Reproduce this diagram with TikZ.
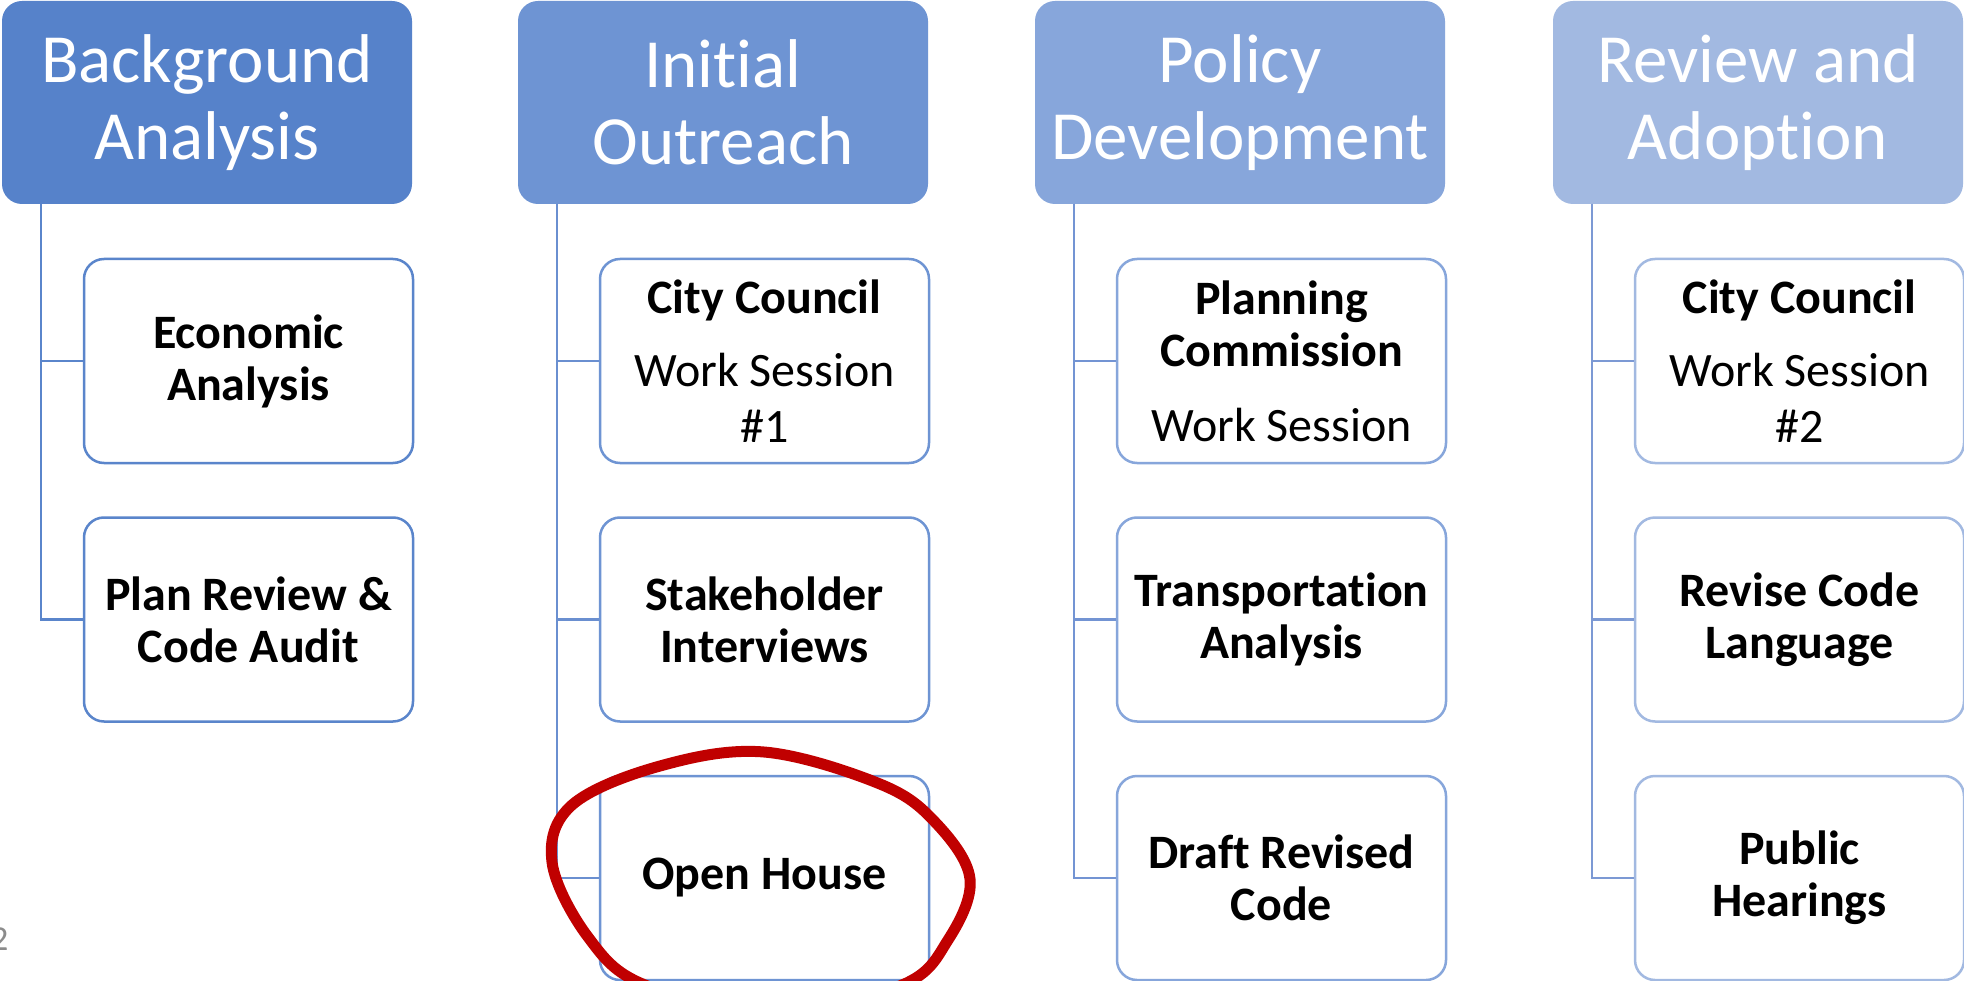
\documentclass[tikz,border=0pt]{standalone}
\usepackage{fontspec}
\setmainfont{Carlito}[Ligatures=NoCommon]
\definecolor{hA}{HTML}{5682CA}
\definecolor{hB}{HTML}{6E94D3}
\definecolor{hC}{HTML}{87A6DB}
\definecolor{hD}{HTML}{A2B9E1}
\definecolor{lA}{HTML}{5A85CB}
\definecolor{lB}{HTML}{6A8FD0}
\definecolor{lC}{HTML}{7394D3}
\definecolor{lD}{HTML}{7C99D4}
\definecolor{penred}{HTML}{C00000}
\definecolor{slidenum}{HTML}{8C8C8C}
\begin{document}
\begin{tikzpicture}[x=1pt,y=-1pt,
  head/.style={draw=none, fill=#1, rounded corners=20pt, minimum width=410pt,
    minimum height=203pt, text=white, align=center, inner sep=0pt,
    font=\fontsize{69}{77}\selectfont},
  child/.style={draw=#1, line width=2.5pt, fill=white, rounded corners=20pt,
    minimum width=329pt, minimum height=204pt, align=center, inner sep=0pt,
    font=\fontsize{48}{52}\selectfont},
  conn/.style={draw=#1, line width=2.5pt},
  pen/.style={draw=penred, line width=11pt, line join=round}]
\fill[white] (0,0) rectangle (1964,981);
\useasboundingbox (0,0) rectangle (1964,981);

% headers
\node[head=hA] (h1) at (207,102.5) {Background\\Analysis};
\node[head=hB] (h2) at (723,102.5) {Initial\\Outreach};
\node[head=hC] (h3) at (1240,102.5) {Policy\\Development};
\node[head=hD] (h4) at (1758,102.5) {Review and\\Adoption};

% spine coordinates
\coordinate (v1) at (41,204);
\coordinate (v2) at (557,204);
\coordinate (v3) at (1074,204);
\coordinate (v4) at (1592,204);

% children
\node[child=lA] (c1a) at (248.5,361) {\bfseries Economic\\\bfseries Analysis};
\node[child=lA] (c1b) at (248.5,619.5) {\bfseries Plan Review \&\\\bfseries Code Audit};

\node[child=hB] (c2a) at (764.5,361) {\textbf{City Council}\\[21pt]Work Session\\[4pt]\#1};
\node[child=hB] (c2b) at (764.5,619.5) {\bfseries Stakeholder\\\bfseries Interviews};
\node[child=hB] (c2c) at (764.5,878) {\bfseries Open House};

\node[child=hC] (c3a) at (1281.5,361) {\textbf{Planning}\\\textbf{Commission}\\[23pt]Work Session};
\node[child=hC] (c3b) at (1281.5,619.5) {\bfseries Transportation\\\bfseries Analysis};
\node[child=hC] (c3c) at (1281.5,878) {\bfseries Draft Revised\\\bfseries Code};

\node[child=hD] (c4a) at (1799.5,361) {\textbf{City Council}\\[21pt]Work Session\\[4pt]\#2};
\node[child=hD] (c4b) at (1799.5,619.5) {\bfseries Revise Code\\\bfseries Language};
\node[child=hD] (c4c) at (1799.5,878) {\bfseries Public\\\bfseries Hearings};

% connectors
\draw[conn=lA] (v1) |- (c1a.west);
\draw[conn=lA] (v1) |- (c1b.west);
\draw[conn=lB] (v2) |- (c2a.west);
\draw[conn=lB] (v2) |- (c2b.west);
\draw[conn=lB] (v2) |- (c2c.west);
\draw[conn=lC] (v3) |- (c3a.west);
\draw[conn=lC] (v3) |- (c3b.west);
\draw[conn=lC] (v3) |- (c3c.west);
\draw[conn=lD] (v4) |- (c4a.west);
\draw[conn=lD] (v4) |- (c4b.west);
\draw[conn=lD] (v4) |- (c4c.west);

% slide number
\node[anchor=base east, inner sep=0pt, text=slidenum,
  font=\fontsize{35}{40}\selectfont] (num) at (8.5,950) {2};

% hand-drawn red circle
\begin{scope}
\clip (0,0) rectangle (1964,981);
\draw[pen] plot[smooth cycle, tension=0.6] coordinates {
  (764,752) (880,784) (935,822) (970,879) (948,940) (902,985)
  (775,1012) (645,985) (588,937) (552,862) (572,805) (660,766)};
\end{scope}
\end{tikzpicture}
\end{document}
